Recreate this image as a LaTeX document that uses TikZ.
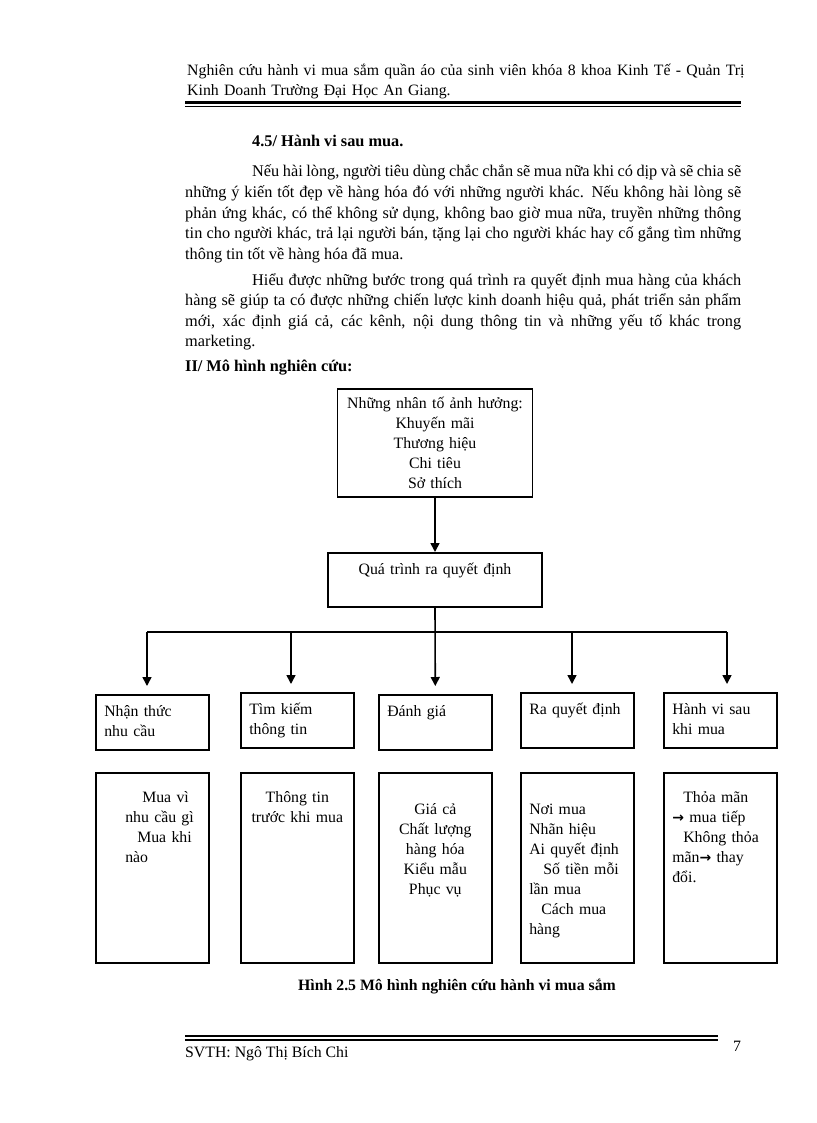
\documentclass[tikz,border=0pt]{standalone}
\usepackage{fontspec}
\setmainfont{Liberation Serif}
\newfontfamily\arrowfont{DejaVu Sans}
\usetikzlibrary{arrows.meta,positioning}
\newcommand\diagfont{\fontsize{15.8}{20}\selectfont}
\newcommand\bodyfont{\fontsize{16.3}{20.6}\selectfont}
\newcommand\thenarrow{{\arrowfont\bfseries\fontsize{14}{20}\selectfont →}}

\begin{document}
\begin{tikzpicture}[x=1pt,y=-1pt,
	line/.style={line width=1.6pt},
	flow/.style={line, -{Triangle[width=9pt,length=9pt]}},
	stagebox/.style={draw, line width=1.6pt, anchor=north west, font=\diagfont,
		text width=96pt, inner xsep=8.5pt, inner ysep=0pt, align=left, text height=22pt},
	upper/.style={stagebox, text depth=33pt},
	lower/.style={stagebox, text height=30pt, text depth=160pt},
	plain/.style={anchor=base west, inner sep=0pt, font=\bodyfont},
	bodytext/.style={plain, text width=556pt, align=justify}]

	\useasboundingbox (0,0) rectangle (816,1123);

	% header
	\node[plain, font=\diagfont, text width=600pt, align=left] (header) at (187,76)
		{Nghiên cứu hành vi mua sắm quần áo của sinh viên khóa 8 khoa Kinh Tế - Quản Trị\\Kinh Doanh Trường Đại Học An Giang.};
	\draw[line width=3pt] (185,102.5) -- (741,102.5);
	\draw[line width=1.2pt] (185,106.5) -- (741,106.5);

	% text
	\node[plain, font=\bodyfont\bfseries] (subhead) at (252,147) {4.5/ Hành vi sau mua.};
	\node[bodytext] (para1) at (185,177) {\hspace*{67pt}Nếu hài lòng, người tiêu dùng chắc chắn sẽ mua nữa khi có dịp và sẽ chia sẽ\linebreak
		những ý kiến tốt đẹp về hàng hóa đó với những người khác. Nếu không hài lòng sẽ\linebreak
		phản ứng khác, có thể không sử dụng, không bao giờ mua nữa, truyền những thông\linebreak
		tin cho người khác, trả lại người bán, tặng lại cho người khác hay cố gắng tìm những\linebreak
		thông tin tốt về hàng hóa đã mua.};
	\node[bodytext] (para2) at (185,285) {\hspace*{67pt}Hiểu được những bước trong quá trình ra quyết định mua hàng của khách\linebreak
		hàng sẽ giúp ta có được những chiến lược kinh doanh hiệu quả, phát triển sản phẩm\linebreak
		mới, xác định giá cả, các kênh, nội dung thông tin và những yếu tố khác trong\linebreak
		marketing.};
	\node[plain, font=\bodyfont\bfseries] (section) at (185,371) {II/ Mô hình nghiên cứu:};

	% model
	\node[draw, line width=1.6pt, font=\diagfont, minimum width=195pt, minimum height=108pt,
		text width=187pt, inner xsep=4pt, align=center] (factors) at (435,443)
		{Những nhân tố ảnh hưởng:\\Khuyến mãi\\Thương hiệu\\Chi tiêu\\Sở thích};
	\node[stagebox, anchor=north, text width=206pt, inner xsep=4pt, align=center, text depth=32pt]
		(process) at (435,552) {Quá trình ra quyết định};

	\node[upper] (needbox) at (95,694) {Nhận thức\\nhu cầu};
	\node[upper] (searchbox) at (240,692) {Tìm kiếm\\thông tin};
	\node[upper] (evalbox) at (378,694) {Đánh giá};
	\node[upper] (choicebox) at (520,692) {Ra quyết định};
	\node[upper] (afterbox) at (663,692) {Hành vi sau\\khi mua};

	\node[lower] (needlist) at (95,772) {\hspace*{38pt}Mua vì\\\hspace*{21pt}nhu cầu gì\\\hspace*{33pt}Mua khi\\\hspace*{21pt}nào};
	\node[lower, align=center] (searchlist) at (240,772) {Thông tin\\trước khi mua};
	\node[lower, align=center, text height=42pt, text depth=148pt] (evallist) at (378,772)
		{Giá cả\\Chất lượng\\hàng hóa\\Kiểu mẫu\\Phục vụ};
	\node[lower, text height=42pt, text depth=148pt] (choicelist) at (520,772)
		{Nơi mua\\Nhãn hiệu\\Ai quyết định\\\hspace*{14pt}Số tiền mỗi\\lần mua\\\hspace*{12pt}Cách mua\\hàng};
	\node[lower] (afterlist) at (663,772) {\hspace*{11pt}Thỏa mãn\\\thenarrow{} mua tiếp\\\hspace*{11pt}Không thỏa\\mãn\thenarrow{} thay\\đổi.};

	\coordinate (busA) at (147,632);
	\coordinate (busB) at (291,632);
	\coordinate (busD) at (572,632);
	\coordinate (busE) at (727,632);

	\draw[flow] (factors) -- (process);
	\draw[line] (busA) -- (busE);
	\draw[flow, shorten >=8pt] (process.south) -- (evalbox.north);
	\draw[flow, shorten >=8pt] (busA) -- (needbox.north -| busA);
	\draw[flow, shorten >=8pt] (busB) -- (searchbox.north -| busB);
	\draw[flow, shorten >=8pt] (busD) -- (choicebox.north -| busD);
	\draw[flow, shorten >=8pt] (busE) -- (afterbox.north -| busE);

	\node[anchor=base, inner sep=0pt, font=\diagfont\bfseries] (caption) at (457,990)
		{Hình 2.5 Mô hình nghiên cứu hành vi mua sắm};

	% footer
	\draw[line width=2pt] (185,1036) -- (718,1036);
	\draw[line width=1.4pt] (185,1040) -- (718,1040);
	\node[plain, font=\diagfont] (signature) at (185,1057) {SVTH: Ngô Thị Bích Chi};
	\node[plain, font=\diagfont] (pageno) at (733,1051) {7};
\end{tikzpicture}
\end{document}
